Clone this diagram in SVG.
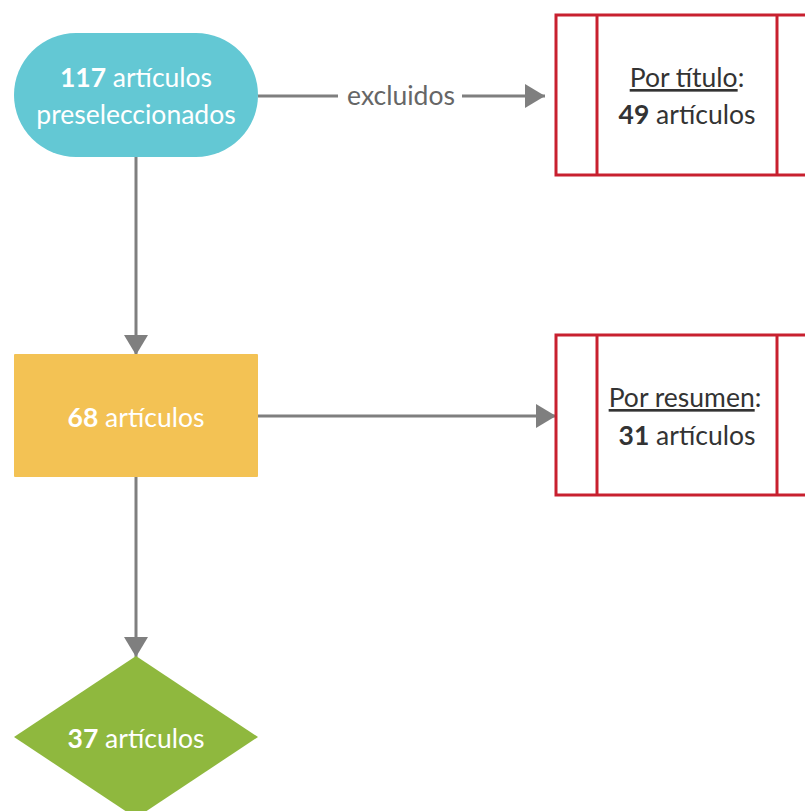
<svg xmlns="http://www.w3.org/2000/svg" width="805" height="811" viewBox="0 0 805 811">
  <defs>
    <marker id="arrow" viewBox="0 0 20 24" refX="20" refY="12" markerWidth="20" markerHeight="24" markerUnits="userSpaceOnUse" orient="auto">
      <path d="M0,0 L20,12 L0,24 Z" fill="#7f7f7f"/>
    </marker>
  </defs>
  <style>
    text { font-family: Lato, "Liberation Sans", sans-serif; font-size: 26.5px; text-anchor: middle; }
    .light { fill: #ffffff; }
    .dark { fill: #333333; }
    .num { font-weight: bold; }
    .edge { stroke: #7f7f7f; stroke-width: 3; fill: none; }
    .excl { fill: #ffffff; stroke: #c8202f; stroke-width: 3; }
    .u { text-decoration: underline; }
  </style>
  <rect width="805" height="811" fill="#ffffff"/>

  <g id="connectors">
    <path class="edge" d="M258,96 H338"/>
    <path class="edge" d="M462,96 H545" marker-end="url(#arrow)"/>
    <path class="edge" d="M136,157 V355" marker-end="url(#arrow)"/>
    <path class="edge" d="M258,416 H556" marker-end="url(#arrow)"/>
    <path class="edge" d="M136,477 V657" marker-end="url(#arrow)"/>
    <text x="401" y="105" fill="#666666">excluidos</text>
  </g>

  <g id="start">
    <rect x="14" y="33" width="244" height="124" rx="62" fill="#63c8d4"/>
    <text class="light" x="136" y="87"><tspan class="num">117</tspan> artículos</text>
    <text class="light" x="136" y="124">preseleccionados</text>
  </g>

  <g id="title-excluded">
    <rect class="excl" x="556" y="15" width="260" height="160"/>
    <line class="excl" x1="597" y1="15" x2="597" y2="175"/>
    <line class="excl" x1="777" y1="15" x2="777" y2="175"/>
    <text class="dark" x="687" y="87"><tspan class="u">Por título</tspan>:</text>
    <text class="dark" x="687" y="124"><tspan class="num">49</tspan> artículos</text>
  </g>

  <g id="after-title">
    <rect x="14" y="354" width="244" height="123" rx="1" fill="#f3c254"/>
    <text class="light" x="136" y="427"><tspan class="num">68</tspan> artículos</text>
  </g>

  <g id="abstract-excluded">
    <rect class="excl" x="556" y="335" width="260" height="160"/>
    <line class="excl" x1="597" y1="335" x2="597" y2="495"/>
    <line class="excl" x1="777" y1="335" x2="777" y2="495"/>
    <text class="dark" x="685" y="407"><tspan class="u">Por resumen</tspan>:</text>
    <text class="dark" x="687" y="445"><tspan class="num">31</tspan> artículos</text>
  </g>

  <g id="final">
    <polygon points="136,656 258,737 136,818 14,737" fill="#8fb83e"/>
    <text class="light" x="136" y="748"><tspan class="num">37</tspan> artículos</text>
  </g>
</svg>
